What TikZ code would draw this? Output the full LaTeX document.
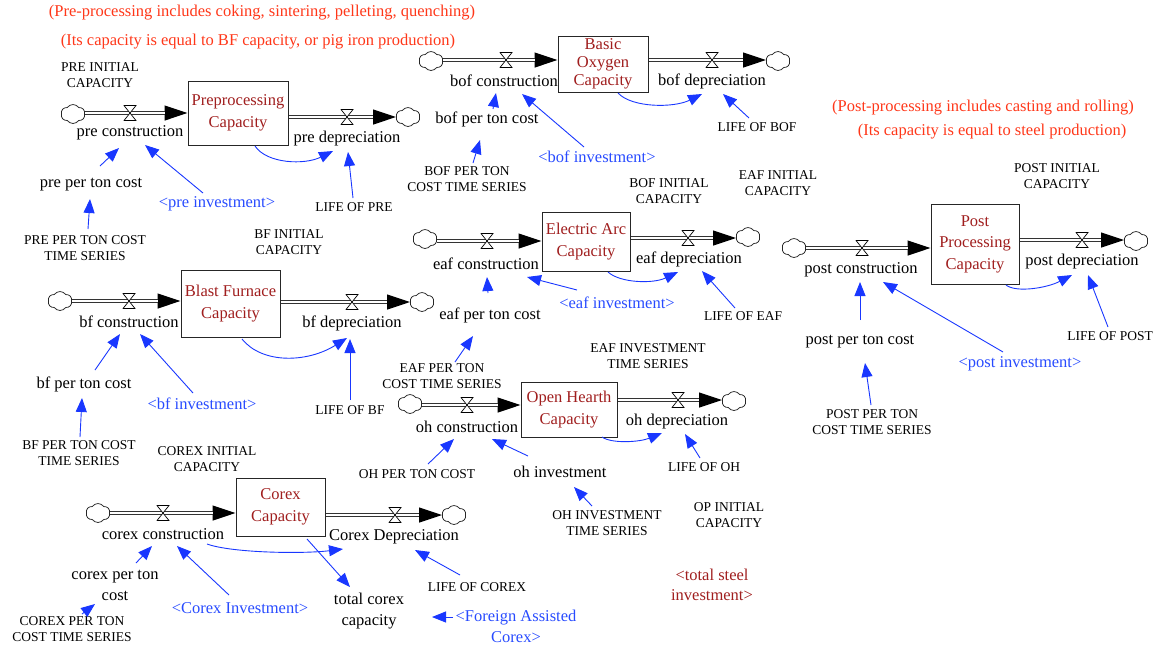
\documentclass[tikz,border=0pt]{standalone}
\usepackage{fontspec}
\setmainfont{Liberation Serif}
\usetikzlibrary{arrows.meta,shapes.symbols,calc,backgrounds}

\definecolor{notered}{RGB}{255,55,25}
\definecolor{stockred}{RGB}{160,30,30}
\definecolor{linkblue}{RGB}{25,55,255}
\definecolor{shadowblue}{RGB}{40,75,255}

\tikzset{
  var/.style={font=\fontsize{16.5}{21}\selectfont, inner sep=1pt, align=center},
  caps/.style={font=\fontsize{13.5}{16.5}\selectfont, inner sep=1pt, align=center},
  shadow/.style={var, text=shadowblue},
  note/.style={font=\fontsize{16.5}{20}\selectfont, text=notered, inner sep=1pt},
  stock/.style={draw=black!85, line width=1pt, fill=white, text=stockred,
    font=\fontsize{16.5}{21.5}\selectfont, align=center, inner sep=0pt},
  cloudnode/.style={cloud, cloud puffs=6, cloud puff arc=110, aspect=1.25, draw=black!85, line width=0.75pt,
    fill=white, minimum width=24pt, minimum height=19pt, inner sep=0pt},
  valve/.style={minimum width=13pt, minimum height=16pt, inner sep=0pt,
    path picture={
      \filldraw[fill=white, draw=black, line width=0.7pt]
        ([xshift=.5pt,yshift=-.5pt]path picture bounding box.north west) --
        ([xshift=-.5pt,yshift=-.5pt]path picture bounding box.north east) --
        ([xshift=.5pt,yshift=.5pt]path picture bounding box.south west) --
        ([xshift=-.5pt,yshift=.5pt]path picture bounding box.south east) -- cycle;
    }},
  pipe/.style={draw=black!80, line width=1pt, double=white, double distance=1.8pt, shorten >=23pt},
  pipehead/.style={draw=black, line width=1.2pt, -{Triangle[length=23pt,width=15pt]}},
  info/.style={draw=linkblue, line width=0.9pt, -{Triangle[length=14pt,width=11pt]}},
}

% a material flow: arrow head first, then the double pipe over it
\newcommand\flowpipe[2]{%
  \draw[pipehead] #1 -- #2;
  \draw[pipe] #1 -- #2;}

\begin{document}
\begin{tikzpicture}[x=1pt,y=-1pt]
\useasboundingbox (0,0) rectangle (1156,646);

% ---------- notes ----------
\node[note] (n1) at (262,13) {(Pre-processing includes coking, sintering, pelleting, quenching)};
\node[note] (n2) at (258,42) {(Its capacity is equal to BF capacity, or pig iron production)};
\node[note] (n3) at (983,108) {(Post-processing includes casting and rolling)};
\node[note] (n4) at (992,132) {(Its capacity is equal to steel production)};

% ---------- stocks ----------
\node[stock, minimum width=100pt, minimum height=64pt] (pre) at (238,113) {Preprocessing\\Capacity};
\node[stock, minimum width=90pt, minimum height=56pt, font=\fontsize{16.5}{18}\selectfont] (bof) at (603,64) {Basic\\Oxygen\\Capacity};
\node[stock, minimum width=88pt, minimum height=59pt] (eaf) at (586,241.5) {Electric Arc\\Capacity};
\node[stock, minimum width=96pt, minimum height=55pt] (oh) at (569,409.5) {Open Hearth\\Capacity};
\node[stock, minimum width=88pt, minimum height=80pt] (post) at (975,244) {Post\\Processing\\Capacity};
\node[stock, minimum width=99pt, minimum height=67pt] (bf) at (230.5,303.5) {Blast Furnace\\Capacity};
\node[stock, minimum width=89pt, minimum height=58pt] (corex) at (280.5,507) {Corex\\Capacity};

% ---------- clouds and valves ----------
\node[cloudnode] (cpreA) at (73,114) {};   \node[valve] (vpreA) at (130,113) {};
\node[valve] (vpreB) at (347,117) {};      \node[cloudnode] (cpreB) at (408,117) {};
\node[cloudnode] (cbofA) at (431,61) {};   \node[valve] (vbofA) at (506,60) {};
\node[valve] (vbofB) at (712,60) {};       \node[cloudnode] (cbofB) at (778,61) {};
\node[cloudnode] (ceafA) at (425,239) {};  \node[valve] (veafA) at (487,241) {};
\node[valve] (veafB) at (688,238) {};      \node[cloudnode] (ceafB) at (748,237) {};
\node[cloudnode] (cohA) at (410,404) {};   \node[valve] (vohA) at (467,405) {};
\node[valve] (vohB) at (678,400) {};       \node[cloudnode] (cohB) at (734,401) {};
\node[cloudnode] (cpostA) at (794,248) {}; \node[valve] (vpostA) at (862,248) {};
\node[valve] (vpostB) at (1082,240) {};    \node[cloudnode] (cpostB) at (1136,241) {};
\node[cloudnode] (cbfA) at (60,301) {};    \node[valve] (vbfA) at (129,301) {};
\node[valve] (vbfB) at (352,302) {};       \node[cloudnode] (cbfB) at (422,302) {};
\node[cloudnode] (ccorA) at (98,513) {};   \node[valve] (vcorA) at (163,513) {};
\node[valve] (vcorB) at (395,515) {};      \node[cloudnode] (ccorB) at (454,515) {};

\begin{scope}[on background layer]
  \flowpipe{(cpreA.east |- vpreA)}{(pre.west |- vpreA)}
  \flowpipe{(pre.east |- vpreB)}{(cpreB.west |- vpreB)}
  \flowpipe{(cbofA.east |- vbofA)}{(bof.west |- vbofA)}
  \flowpipe{(bof.east |- vbofB)}{(cbofB.west |- vbofB)}
  \flowpipe{(ceafA.east |- veafA)}{(eaf.west |- veafA)}
  \flowpipe{(eaf.east |- veafB)}{(ceafB.west |- veafB)}
  \flowpipe{(cohA.east |- vohA)}{(oh.west |- vohA)}
  \flowpipe{(oh.east |- vohB)}{(cohB.west |- vohB)}
  \flowpipe{(cpostA.east |- vpostA)}{(post.west |- vpostA)}
  \flowpipe{(post.east |- vpostB)}{(cpostB.west |- vpostB)}
  \flowpipe{(cbfA.east |- vbfA)}{(bf.west |- vbfA)}
  \flowpipe{(bf.east |- vbfB)}{(cbfB.west |- vbfB)}
  \flowpipe{(ccorA.east |- vcorA)}{(corex.west |- vcorA)}
  \flowpipe{(corex.east |- vcorB)}{(ccorB.west |- vcorB)}
\end{scope}

% ---------- preprocessing ----------
\node[caps] (preinit) at (100,75) {PRE INITIAL\\CAPACITY};
\node[var] (precon) at (130,133) {pre construction};
\node[var] (predep) at (347,139) {pre depreciation};
\node[var] (preppt) at (91,185) {pre per ton cost};
\node[shadow] (preinv) at (217,204) {<pre investment>};
\node[caps] (lifepre) at (354,207) {LIFE OF PRE};
\node[caps] (prets) at (85,248) {PRE PER TON COST\\TIME SERIES};

\draw[info] ($(preppt)+(9,-19)$) -- ($(precon)+(-11,15)$);
\draw[info] ($(preinv)+(-14,-11)$) -- ($(precon)+(15,12)$);
\draw[info] ($(prets)+(3,-19)$) -- ($(preppt)+(-1,14)$);
\draw[info] ($(pre)+(17,33)$) .. controls +(12,18) and +(-28,14) .. ($(predep)+(-14,12)$);
\draw[info] ($(lifepre)+(-1,-9)$) -- ($(predep)+(1,13)$);

% ---------- basic oxygen ----------
\node[var] (bofcon) at (504,81) {bof construction};
\node[var] (bofdep) at (712,81) {bof depreciation};
\node[var] (bofppt) at (487,119) {bof per ton cost};
\node[shadow] (bofinv) at (597,157) {<bof investment>};
\node[caps] (lifebof) at (757,127) {LIFE OF BOF};
\node[caps] (bofts) at (467,179) {BOF PER TON\\COST TIME SERIES};
\node[caps] (bofinit) at (669,191) {BOF INITIAL\\CAPACITY};
\node[caps] (eafinit) at (778,183) {EAF INITIAL\\CAPACITY};

\draw[info] ($(bofppt)+(6,-10)$) -- ($(bofcon)+(-8,12)$);
\draw[info] ($(bofinv)+(-13,-10)$) -- ($(bofcon)+(18,13)$);
\draw[info] ($(bofts)+(6,-16)$) -- ($(bofppt)+(-7,21)$);
\draw[info] ($(bof)+(15,29)$) .. controls +(14,15) and +(-28,14) .. ($(bofdep)+(-10,13)$);
\draw[info] ($(lifebof)+(-8,-9)$) -- ($(bofdep)+(11,13)$);

% ---------- electric arc ----------
\node[var] (eafcon) at (486,264) {eaf construction};
\node[var] (eafdep) at (689,259) {eaf depreciation};
\node[var] (eafppt) at (490,315) {eaf per ton cost};
\node[shadow] (eafinv) at (617,303) {<eaf investment>};
\node[caps] (lifeeaf) at (743,316) {LIFE OF EAF};
\node[caps] (eafts) at (442,376) {EAF PER TON\\COST TIME SERIES};
\node[caps] (eafinvts) at (648,356) {EAF INVESTMENT\\TIME SERIES};

\draw[info] ($(eafppt)+(-2,-22)$) -- ($(eafcon)+(1,13)$);
\draw[info] ($(eafinv)+(-40,-13)$) -- ($(eafcon)+(41,13)$);
\draw[info] ($(eafts)+(13,-14)$) -- ($(eafppt)+(-17,21)$);
\draw[info] ($(eaf)+(22,30.5)$) .. controls +(12,11) and +(-25,12) .. ($(eafdep)+(-11,13)$);
\draw[info] ($(lifeeaf)+(-8,-8)$) -- ($(eafdep)+(13,12)$);

% ---------- open hearth ----------
\node[var] (ohcon) at (467,427) {oh construction};
\node[var] (ohdep) at (677,422) {oh depreciation};
\node[caps] (ohppt) at (417,474) {OH PER TON COST};
\node[var] (ohinv) at (560,472) {oh investment};
\node[caps] (lifeoh) at (704,467) {LIFE OF OH};
\node[caps] (ohinvts) at (607,523) {OH INVESTMENT\\TIME SERIES};
\node[caps] (opinit) at (729,515) {OP INITIAL\\CAPACITY};

\draw[info] ($(ohppt)+(11,-10)$) -- ($(ohcon)+(-13,12)$);
\draw[info] ($(ohinv)+(-32,-16)$) -- ($(ohcon)+(25,12)$);
\draw[info] ($(ohinvts)+(-15,-17)$) -- ($(ohinv)+(14,15)$);
\draw[info] ($(oh)+(33,27.5)$) .. controls +(10,7) and +(-22,9) .. ($(ohdep)+(-15,11)$);
\draw[info] ($(lifeoh)+(-4,-9)$) -- ($(ohdep)+(8,12)$);

% ---------- post processing ----------
\node[var] (postcon) at (861,270) {post construction};
\node[var] (postdep) at (1082,262) {post depreciation};
\node[var] (postppt) at (860,342) {post per ton cost};
\node[shadow] (postinv) at (1020,364) {<post investment>};
\node[caps] (lifepost) at (1110,336) {LIFE OF POST};
\node[caps] (postts) at (872,422) {POST PER TON\\COST TIME SERIES};
\node[caps] (postinit) at (1057,176) {POST INITIAL\\CAPACITY};

\draw[info] ($(postppt)+(0,-22)$) -- ($(postcon)+(-1,12)$);
\draw[info] ($(postinv)+(-17,-12)$) -- ($(postcon)+(22,12)$);
\draw[info] ($(postts)+(-1,-17)$) -- ($(postppt)+(5,21)$);
\draw[info] ($(post)+(31,41)$) .. controls +(10,8) and +(-25,13) .. ($(postdep)+(-10,13)$);
\draw[info] ($(lifepost)+(-2,-9)$) -- ($(postdep)+(6,13)$);

% ---------- blast furnace ----------
\node[var] (bfcon) at (129,322) {bf construction};
\node[var] (bfdep) at (352,323) {bf depreciation};
\node[var] (bfppt) at (84,384) {bf per ton cost};
\node[shadow] (bfinv) at (202,404) {<bf investment>};
\node[caps] (lifebf) at (350,410) {LIFE OF BF};
\node[caps] (bfinit) at (289,242) {BF INITIAL\\CAPACITY};
\node[caps] (bfts) at (79,453) {BF PER TON COST\\TIME SERIES};

\draw[info] ($(bfppt)+(11,-14)$) -- ($(bfcon)+(-9,12)$);
\draw[info] ($(bfinv)+(-9,-11)$) -- ($(bfcon)+(11,12)$);
\draw[info] ($(bfts)+(1,-16)$) -- ($(bfppt)+(-2,14)$);
\draw[info] ($(bf)+(11.5,35.5)$) .. controls +(20,25) and +(-40,25) .. ($(bfdep)+(-5,15)$);
\draw[info] ($(lifebf)+(0,-10)$) -- ($(bfdep)+(-2,16)$);

% ---------- corex ----------
\node[caps] (corexinit) at (207,459) {COREX INITIAL\\CAPACITY};
\node[var] (corexcon) at (163,534) {corex construction};
\node[var] (corexdep) at (394,537) {Corex Depreciation};
\node[var] (corexppt) at (115,585) {corex per ton\\cost};
\node[shadow] (corexinv) at (240,608) {<Corex Investment>};
\node[var] (totalcorex) at (369,611) {total corex\\capacity};
\node[caps] (lifecorex) at (477,587) {LIFE OF COREX};
\node[shadow] (foreign) at (516,626) {<Foreign Assisted\\Corex>};
\node[caps] (corexts) at (72,629) {COREX PER TON\\COST TIME SERIES};
\node[var, text=stockred, font=\fontsize{16.5}{20}\selectfont] (totsteel) at (712,585) {<total steel\\investment>};

\draw[info] ($(corexppt)+(21,-22)$) -- ($(corexcon)+(-11,12)$);
\draw[info] ($(corexinv)+(-11,-13)$) -- ($(corexcon)+(14,12)$);
\draw[info] ($(corexts)+(10,-15)$) -- ($(corexppt)+(-20,19)$);
\draw[info] ($(corexcon)+(44,10)$) .. controls +(25,9) and +(-40,5) .. ($(corexdep)+(-51,12)$);
\draw[info] ($(corex)+(26.5,32)$) -- ($(totalcorex)+(-19,-24)$);
\draw[info] ($(lifecorex)+(-17,-12)$) -- ($(corexdep)+(21,13)$);
\draw[info] ($(foreign)+(-63,-9)$) -- ($(totalcorex)+(63,6)$);

\end{tikzpicture}
\end{document}
